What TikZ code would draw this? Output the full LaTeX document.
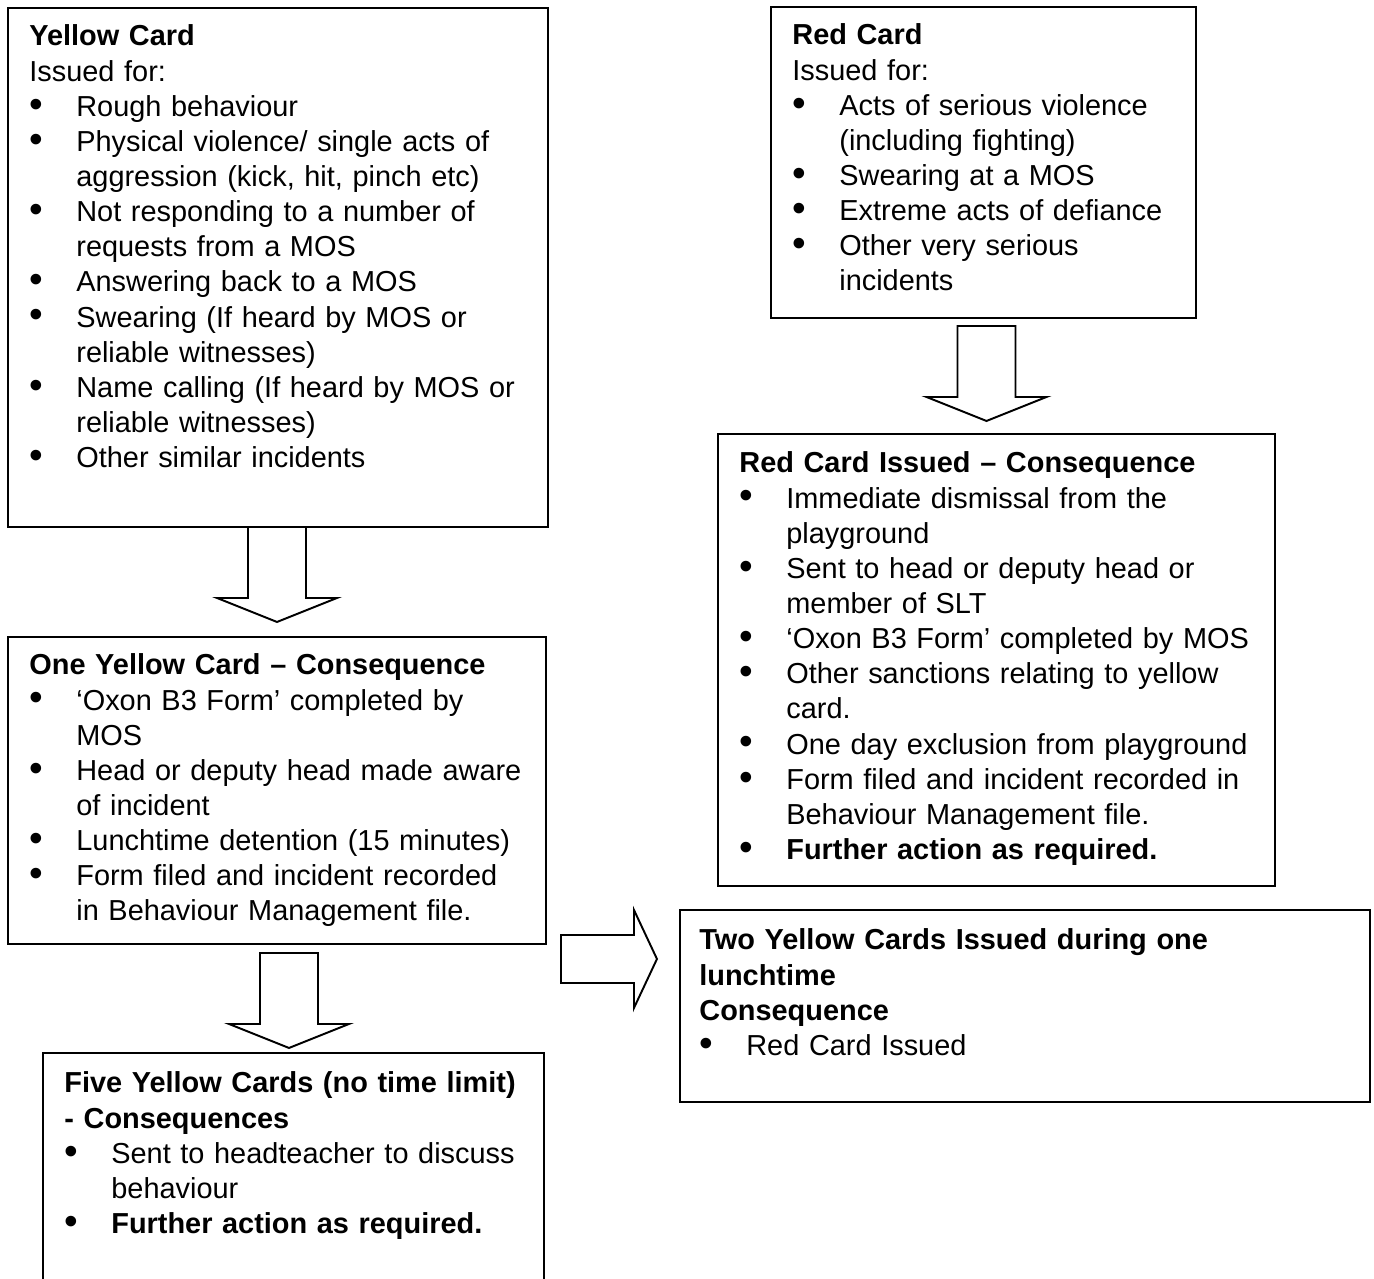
\documentclass[tikz,border=0pt]{standalone}
\usepackage{fontspec}
\setmainfont{Liberation Sans}
\usetikzlibrary{calc,fit}

\newlength{\bulind}
\setlength{\bulind}{0.94cm}
\newcommand{\cardfont}{\fontsize{16.45}{20}\selectfont}
\newcommand{\itm}[1]{\par\hangindent=\bulind\hangafter=1\noindent\makebox[\bulind][l]{\raisebox{-0.05ex}{\scalebox{1.35}{\textbullet}}}#1}
\newcommand{\blockdown}[1]{\draw[blockarrow] (#1) ++(-29,0) -- ++(0,71) -- ++(-31,0) -- ++(60,24) -- ++(60,-24) -- ++(-31,0) -- ++(0,-71) -- cycle;}
\newcommand{\blockright}[1]{\draw[blockarrow] (#1) ++(0,-24) -- ++(73,0) -- ++(0,-25) -- ++(23,49) -- ++(-23,49) -- ++(0,-25) -- ++(-73,0) -- cycle;}

\tikzset{
  card/.style={draw, line width=1.1pt, inner sep=0pt},
  cardtext/.style={anchor=north west, inner sep=0pt, text width=#1, align=left, font=\cardfont},
  blockarrow/.style={draw, line width=1.1pt, fill=white, line join=miter},
}

\begin{document}
\begin{tikzpicture}[x=0.02cm, y=-0.02cm]
  \useasboundingbox (0,0) rectangle (1374,1279);
  % boxes
  \node[card, fit={(8,8) (548,527)}] (yc) {};
  \node[card, fit={(771,7) (1196,318)}] (rc) {};
  \node[card, fit={(718,434) (1275,886)}] (rci) {};
  \node[card, fit={(8,637) (546,944)}] (oyc) {};
  \node[card, fit={(680,910) (1370,1102)}] (tyc) {};
  \node[card, fit={(43,1053) (544,1300)}] (fyc) {};
  % texts
  \node[cardtext=10.6cm] (yctext) at ($(yc.north west)+(22,14)$) {\strut\textbf{Yellow Card}\par
    Issued for:
    \itm{Rough behaviour}
    \itm{Physical violence/ single acts of\newline aggression (kick, hit, pinch etc)}
    \itm{Not responding to a number of\newline requests from a MOS}
    \itm{Answering back to a MOS}
    \itm{Swearing (If heard by MOS or\newline reliable witnesses)}
    \itm{Name calling (If heard by MOS or\newline reliable witnesses)}
    \itm{Other similar incidents}\par};
  \node[cardtext=8.3cm] (rctext) at ($(rc.north west)+(22,14)$) {\strut\textbf{Red Card}\par
    Issued for:
    \itm{Acts of serious violence\newline (including fighting)}
    \itm{Swearing at a MOS}
    \itm{Extreme acts of defiance}
    \itm{Other very serious\newline incidents}\par};
  \node[cardtext=10.9cm] (rcitext) at ($(rci.north west)+(22,15)$) {\strut\textbf{Red Card Issued – Consequence}
    \itm{Immediate dismissal from the\newline playground}
    \itm{Sent to head or deputy head or\newline member of SLT}
    \itm{‘Oxon B3 Form’ completed by MOS}
    \itm{Other sanctions relating to yellow\newline card.}
    \itm{One day exclusion from playground}
    \itm{Form filed and incident recorded in\newline Behaviour Management file.}
    \itm{\textbf{Further action as required.}}\par};
  \node[cardtext=10.6cm] (oyctext) at ($(oyc.north west)+(22,14)$) {\strut\textbf{One Yellow Card – Consequence}
    \itm{‘Oxon B3 Form’ completed by\newline MOS}
    \itm{Head or deputy head made aware\newline of incident}
    \itm{Lunchtime detention (15 minutes)}
    \itm{Form filed and incident recorded\newline in Behaviour Management file.}\par};
  \node[cardtext=13.5cm] (tyctext) at ($(tyc.north west)+(20,16)$) {\strut\textbf{Two Yellow Cards Issued during one\newline lunchtime\newline Consequence}
    \itm{Red Card Issued}\par};
  \node[cardtext=9.8cm] (fyctext) at ($(fyc.north west)+(22,16)$) {\strut\textbf{Five Yellow Cards (no time limit)\newline - Consequences}
    \itm{Sent to headteacher to discuss\newline behaviour}
    \itm{\textbf{Further action as required.}}\par};
  % arrows
  \blockdown{$(yc.south)+(-1,-1)$}
  \blockdown{$(rc.south)+(3,7)$}
  \blockdown{$(oyc.south)+(12,8)$}
  \blockright{$(oyc.south east)+(14,14)$}
\end{tikzpicture}
\end{document}
